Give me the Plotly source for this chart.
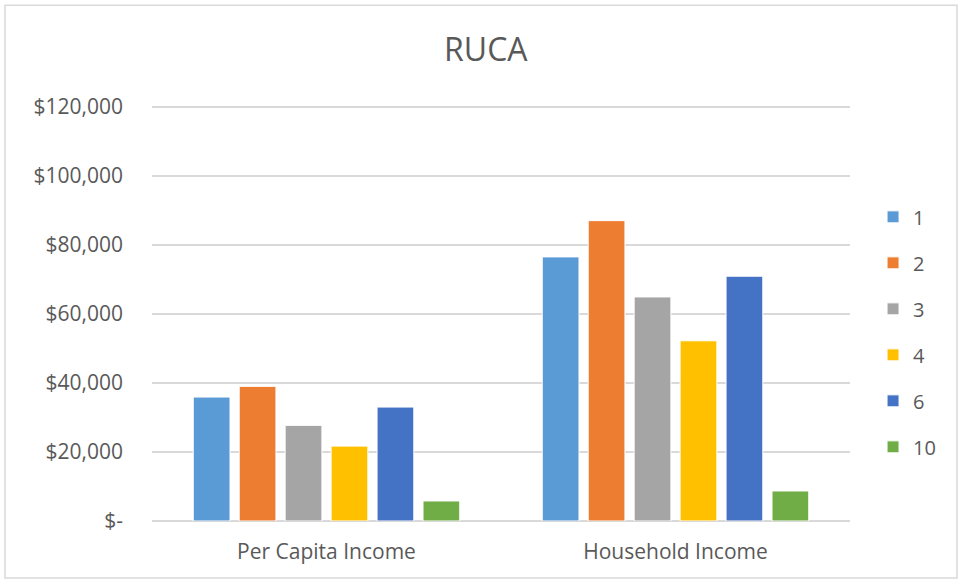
import plotly.graph_objects as go

categories = ["Per Capita Income", "Household Income"]
ruca_codes = ["1", "2", "3", "4", "6", "10"]
ruca_1 = [35900, 76500]
ruca_2 = [39000, 87000]
ruca_3 = [27700, 64900]
ruca_4 = [21700, 52200]
ruca_6 = [33000, 70900]
ruca_10 = [5800, 8700]
tick_vals = [0, 20000, 40000, 60000, 80000, 100000, 120000]
tick_text = ["$-", "$20,000", "$40,000", "$60,000", "$80,000", "$100,000", "$120,000"]

series = [ruca_1, ruca_2, ruca_3, ruca_4, ruca_6, ruca_10]
colors = ['#5B9BD5', '#ED7D31', '#A5A5A5', '#FFC000', '#4472C4', '#70AD47']
font_family = "'Open Sans', sans-serif"

fig = go.Figure()
for name, vals, color in zip(ruca_codes, series, colors):
    fig.add_trace(go.Bar(
        x=categories, y=vals, name=name, legendgroup=name,
        marker=dict(color=color, line=dict(color='white', width=1))
    ))

fig.update_layout(
    width=962, height=583,
    margin=dict(l=152, r=112, t=105, b=62, autoexpand=False),
    plot_bgcolor='white', paper_bgcolor='white',
    barmode='group', bargap=0.21, bargroupgap=0.2,
    title=dict(text="RUCA", x=0.505, xanchor='center', y=0.914, yanchor='middle',
               font=dict(family=font_family, size=32, color='#595959')),
    font=dict(family=font_family, color='#595959'),
    legend=dict(x=1.033, xanchor='left', y=0.778, yanchor='top',
                tracegroupgap=17, font=dict(size=20, color='#595959'),
                itemwidth=30),
    showlegend=True,
)
fig.update_yaxes(
    range=[0, 120500], tickvals=tick_vals, ticktext=tick_text,
    showgrid=True, gridcolor='#D9D9D9', gridwidth=1.5,
    zeroline=True, zerolinecolor='#D9D9D9', zerolinewidth=1.5,
    tickfont=dict(size=21, color='#595959'), ticks='', ticklabelstandoff=28,
    automargin=False,
)
fig.update_xaxes(
    tickfont=dict(size=21, color='#595959'), showline=False, ticks='',
    ticklabelstandoff=16, automargin=False,
)
# outer chart border
fig.add_shape(type='rect', xref='paper', yref='paper',
              x0=-0.2106, x1=1.1533, y0=-0.137, y1=1.240,
              line=dict(color='#D9D9D9', width=1.5), fillcolor='rgba(0,0,0,0)')

# drop the default 8px body margin so the figure sits at the page corner
fig.write_html("out.html", config=dict(displayModeBar=False),
               post_script="document.body.style.margin='0';")
